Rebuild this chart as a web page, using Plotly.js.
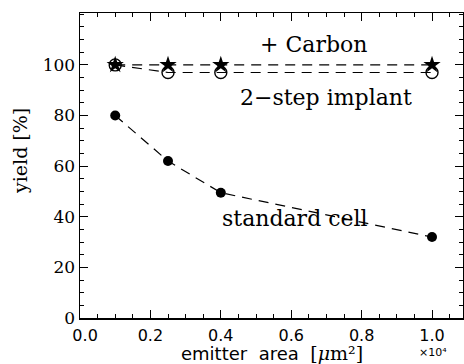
<!DOCTYPE html>
<html><head><meta charset="utf-8">
<script src="https://cdn.plot.ly/plotly-3.0.1.min.js"></script>
<style>body{margin:0;background:#fff}#c{width:464px;height:364px}</style>
</head><body><div id="c"></div>
<script>
const area = [0.1, 0.25, 0.4, 1.0];
const standardCell = [80, 62, 49.5, 32];
const twoStep = [100, 97, 97, 97];
const carbon = [100, 100, 100, 100];
const xTicks = [0.0, 0.2, 0.4, 0.6, 0.8, 1.0];
const xTickText = ['\u00a0\u00a00.0', '0.2', '0.4', '0.6', '0.8', '1.0'];
const yTicks = [0, 20, 40, 60, 80, 100];

const dashLine = {color: '#000', width: 1.2, dash: '10px,7px'};
const traces = [
  {x: area, y: standardCell, mode: 'lines+markers', line: dashLine,
   marker: {symbol: 'circle', size: 10, color: '#000'}},
  {x: area, y: twoStep, mode: 'lines+markers', line: dashLine,
   marker: {symbol: 'circle-open', size: 12, color: '#000', line: {width: 1.4, color: '#000'}}},
  {x: area, y: carbon, mode: 'lines+markers', line: dashLine,
   marker: {symbol: 'star', size: 13, color: '#000'}}
];
const serif = 'DejaVu Serif';
const sans = 'DejaVu Sans';
const layout = {
  width: 464, height: 364,
  margin: {l: 80, r: 1, t: 13, b: 46},
  paper_bgcolor: '#fff', plot_bgcolor: '#fff',
  showlegend: false,
  xaxis: {range: [0, 1.088], tickvals: xTicks, ticktext: xTickText,
    ticks: 'inside', ticklen: 8, tickwidth: 1, tickcolor: '#000',
    minor: {dtick: 0.05, ticks: 'inside', ticklen: 4, tickcolor: '#000'},
    showline: true, linecolor: '#000', linewidth: 1.5, mirror: 'ticks',
    showgrid: false, zeroline: false, ticklabelstandoff: 2,
    tickfont: {family: sans, size: 16, color: '#000'}},
  yaxis: {range: [0, 120.5], tickvals: yTicks,
    ticks: 'inside', ticklen: 8, tickwidth: 1, tickcolor: '#000',
    minor: {dtick: 5, ticks: 'inside', ticklen: 4, tickcolor: '#000'},
    showline: true, linecolor: '#000', linewidth: 1.5, mirror: 'ticks',
    showgrid: false, zeroline: false,
    tickfont: {family: serif, size: 17, color: '#000'}},
  annotations: [
    {x: 0.662, y: 107.9, xref: 'x', yref: 'y', text: '+ Carbon', showarrow: false,
     font: {family: serif, size: 22, color: '#000'}},
    {x: 0.699, y: 87, xref: 'x', yref: 'y', text: '2\u2212step implant', showarrow: false,
     font: {family: serif, size: 22, color: '#000'}},
    {x: 0.611, y: 39.5, xref: 'x', yref: 'y', text: 'standard cell', showarrow: false,
     font: {family: serif, size: 22, color: '#000'}},
    {x: 272, y: 353, text: 'emitter  area  <span style="font-family:DejaVu Serif;font-size:19px">[<i>\u03bc</i>m\u00b2]</span>',
     showarrow: false, font: {family: sans, size: 18, color: '#000'}},
    {x: 20, y: 151, text: 'yield [%]', showarrow: false, textangle: -90,
     font: {family: serif, size: 19, color: '#000'}},
    {x: 433, y: 353, text: '\u00d710\u2074', showarrow: false,
     font: {family: sans, size: 11, color: '#000'}}
  ]
};
const pw = 464 - 80 - 1, ph = 364 - 13 - 46;
layout.annotations.forEach(a => {
  if (a.xref !== 'x') {
    a.xref = 'paper'; a.yref = 'paper';
    a.xanchor = 'center'; a.yanchor = 'middle';
    a.x = (a.x - 80) / pw; a.y = (364 - 46 - a.y) / ph;
  }
});
Plotly.newPlot('c', traces, layout, {staticPlot: true});
</script></body></html>
